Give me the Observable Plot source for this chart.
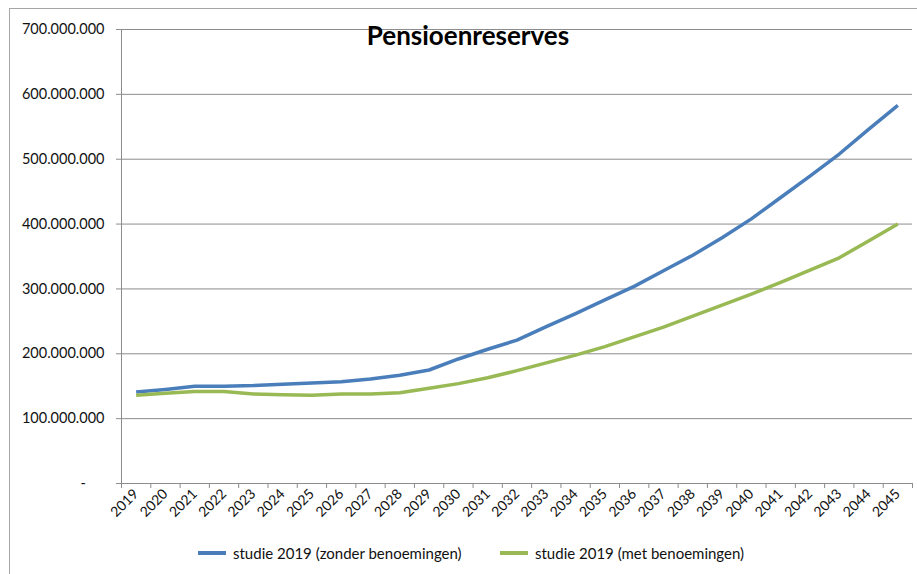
<!DOCTYPE html>
<html>
<head>
<meta charset="utf-8">
<script src="https://cdn.jsdelivr.net/npm/d3@7"></script>
<script src="https://cdn.jsdelivr.net/npm/@observablehq/plot@0.6"></script>
<style>
  html, body { margin: 0; padding: 0; background: #fff; }
  #wrap { position: relative; width: 917px; height: 574px; overflow: hidden; font-family: Lato, "Open Sans", sans-serif; }
  #border { position: absolute; left: 9px; top: 8px; width: 1000px; height: 1000px; border-left: 1px solid #a6a6a6; border-top: 1px solid #a6a6a6; box-sizing: border-box; }
  #title { position: absolute; left: 0; width: 936px; top: 19px; text-align: center; font-weight: bold; font-size: 26px; color: #000; }
  #legend { position: absolute; top: 544px; left: 0; font-size: 15px; color: #111; }
  .item { position: absolute; white-space: nowrap; display: flex; align-items: center; }
  .sw { display: inline-block; width: 28px; height: 4px; margin-right: 7px; }
</style>
</head>
<body>
<div id="wrap">
  <div id="border"></div>
  <div id="chart"></div>
  <div id="title">Pensioenreserves</div>
  <div id="legend"></div>
</div>
<script>
const years = [2019,2020,2021,2022,2023,2024,2025,2026,2027,2028,2029,2030,2031,2032,2033,2034,2035,2036,2037,2038,2039,2040,2041,2042,2043,2044,2045];
const zonder = [141,145,150,150,151,153,155,157,161,167,175,192,207,221,242,262,283,304,328,352,379,408,441,474,508,546,583];
const met    = [136,139,142,142,138,137,136,138,138,140,147,154,163,174,186,198,211,226,241,258,275,292,310,329,348,374,400];
const seriesNames = ["studie 2019 (zonder benoemingen)", "studie 2019 (met benoemingen)"];
const seriesColors = ["#4a7ebb", "#98b954"];
const yTicks = [0,100,200,300,400,500,600,700].map(v => v * 1e6);

const data = [];
years.forEach((yr, i) => {
  data.push({year: yr, value: zonder[i] * 1e6, series: seriesNames[0]});
  data.push({year: yr, value: met[i] * 1e6, series: seriesNames[1]});
});

const boundaries = years.map(y => y - 0.5).concat([years[years.length - 1] + 0.5]);
const nl = d3.formatLocale({thousands: ".", decimal: ",", grouping: [3], currency: ["", ""]});
const fmt = nl.format(",");
const yFormat = d => d === 0 ? "-\u00a0\u00a0\u00a0\u00a0\u00a0" : fmt(d);
const gray = "#8c8c8c";

const chart = Plot.plot({
  width: 917,
  height: 574,
  marginLeft: 121,
  marginRight: 5,
  marginTop: 29,
  marginBottom: 91,
  style: {fontFamily: "Lato, 'Open Sans', sans-serif", background: "transparent", color: "#111"},
  x: {domain: [boundaries[0], boundaries[boundaries.length - 1]]},
  y: {domain: [0, 700e6]},
  color: {domain: seriesNames, range: seriesColors},
  marks: [
    Plot.gridY(yTicks, {stroke: gray, strokeOpacity: 1, strokeWidth: 1}),
    Plot.ruleX([boundaries[0]], {stroke: gray, strokeWidth: 1}),
    Plot.ruleY([0], {stroke: gray, strokeWidth: 1}),
    Plot.axisY(yTicks, {tickSize: 5, tickPadding: 12, stroke: gray, tickFormat: yFormat, fontSize: 14.5, fill: "#111", label: null}),
    Plot.axisX(boundaries, {tickSize: 5, stroke: gray, tickFormat: () => "", label: null}),
    Plot.axisX(years, {tickSize: 0, tickPadding: 8, tickRotate: -45, tickFormat: d => String(d), fontSize: 14, fill: "#111", label: null}),
    Plot.line(data, {x: "year", y: "value", z: "series", stroke: "series", strokeWidth: 3.5, strokeLinejoin: "round", strokeLinecap: "butt"})
  ]
});
document.getElementById("chart").appendChild(chart);

const legend = document.getElementById("legend");
const legendLeft = [198, 500];
seriesNames.forEach((name, i) => {
  const it = document.createElement("div");
  it.className = "item";
  it.style.left = legendLeft[i] + "px";
  const sw = document.createElement("span");
  sw.className = "sw";
  sw.style.background = seriesColors[i];
  it.appendChild(sw);
  it.appendChild(document.createTextNode(name));
  legend.appendChild(it);
});
</script>
</body>
</html>
